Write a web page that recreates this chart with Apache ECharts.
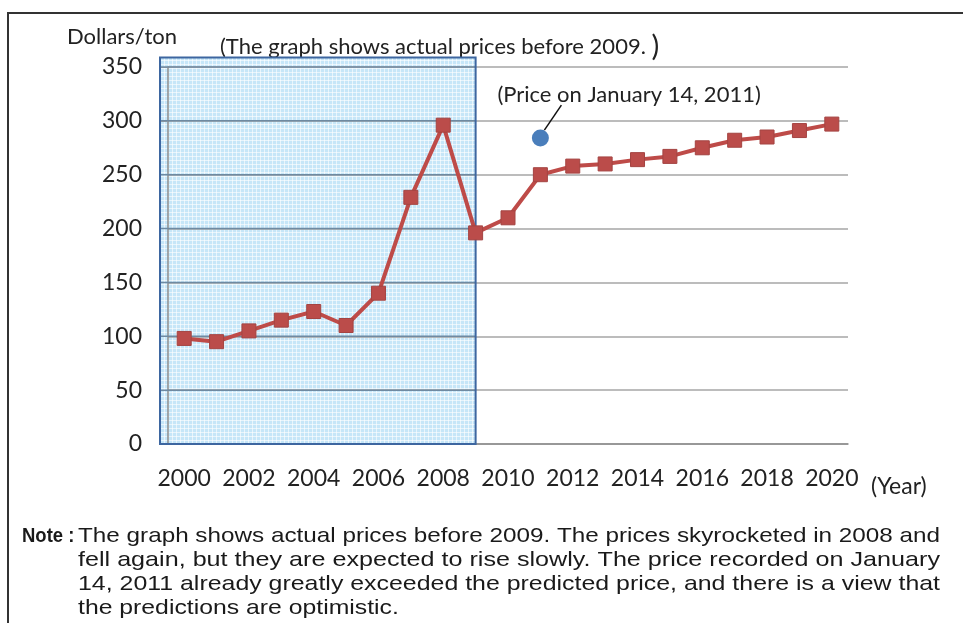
<!DOCTYPE html>
<html>
<head>
<meta charset="utf-8">
<script src="https://cdn.jsdelivr.net/npm/echarts@6/dist/echarts.min.js"></script>
<style>
  html, body { margin: 0; padding: 0; background: #fff; }
  #chart { width: 963px; height: 623px; }
</style>
</head>
<body>
<div id="chart"></div>
<script>
// data
const years = ['2000', '2001', '2002', '2003', '2004', '2005', '2006', '2007', '2008', '2009', '2010',
  '2011', '2012', '2013', '2014', '2015', '2016', '2017', '2018', '2019', '2020']
const prices = [98, 95, 105, 115, 123, 110, 140, 229, 296, 196, 210,
  250, 258, 260, 264, 267, 275, 282, 285, 291, 297]
const actualUntil = '2009'
const janPriceYear = '2011'
const janPrice = 284
const yTicks = [0, 50, 100, 150, 200, 250, 300, 350]
const noteLines = [
  'The graph shows actual prices before 2009. The prices skyrocketed in 2008 and',
  'fell again, but they are expected to rise slowly. The price recorded on January',
  '14, 2011 already greatly exceeded the predicted price, and there is a view that',
  'the predictions are optimistic.'
]

const FONT = 'Lato'
const chart = echarts.init(document.getElementById('chart'))

// 获取option
const option = {
  animation: false,
  grid: { left: 168, right: 115, top: 67, bottom: 179 },
  xAxis: {
    type: 'category',
    data: years,
    boundaryGap: true,
    axisLine: { lineStyle: { color: '#8c8c8c', width: 1.5 } },
    axisTick: { inside: true, length: 6, interval: 0, lineStyle: { color: '#8c8c8c' } },
    axisLabel: { interval: 1, margin: 23, fontFamily: FONT, fontSize: 23, color: '#222' },
    splitLine: { show: false }
  },
  yAxis: {
    type: 'value',
    min: yTicks[0],
    max: yTicks[yTicks.length - 1],
    interval: 50,
    axisLine: { show: true, lineStyle: { color: '#8c8c8c', width: 1.5 } },
    axisTick: { show: true, length: 8, lineStyle: { color: '#a0a0a0' } },
    axisLabel: { margin: 26, fontFamily: FONT, fontSize: 23, color: '#222' },
    splitLine: { lineStyle: { color: '#a6a6a6', width: 1.5 } }
  },
  series: [
    {
      type: 'line',
      data: prices,
      symbol: 'rect',
      symbolSize: 14,
      z: 5,
      lineStyle: { color: '#be4b48', width: 4 },
      itemStyle: { color: '#bb4c4a', borderColor: '#a44442', borderWidth: 1 }
    },
    {
      type: 'scatter',
      data: [[janPriceYear, janPrice]],
      symbolSize: 17,
      z: 6,
      itemStyle: { color: '#4a7ebb', opacity: 1 },
      label: {
        show: true,
        formatter: '(Price on January 14, 2011)',
        position: [-34.5, -34.5],
        align: 'left',
        verticalAlign: 'middle',
        fontFamily: FONT,
        fontSize: 22,
        color: '#222'
      }
    }
  ]
}
chart.setOption(option)

// shaded "actual prices" region and free text, positioned from the axes
const xEnd = chart.convertToPixel({ xAxisIndex: 0 }, actualUntil)
const yTop = chart.convertToPixel({ yAxisIndex: 0 }, yTicks[yTicks.length - 1])
const yBot = chart.convertToPixel({ yAxisIndex: 0 }, 0)
const dot = chart.convertToPixel({ gridIndex: 0 }, [janPriceYear, janPrice])
const boxLeft = 160
const boxTop = yTop - 9.5

// 斑点图案
const pat = document.createElement('canvas')
pat.width = 4
pat.height = 4
const pctx = pat.getContext('2d')
pctx.fillStyle = '#c6e6f8'
pctx.fillRect(0, 0, 4, 4)
pctx.fillStyle = 'rgba(255,255,255,0.6)'
pctx.fillRect(0, 0, 4, 1)
pctx.fillRect(0, 0, 1, 4)

// 区域内的网格线（颜色更深）
const innerGrid = yTicks.slice(1).map(v => {
  const y = chart.convertToPixel({ yAxisIndex: 0 }, v)
  return {
    type: 'line',
    z: 1,
    shape: { x1: boxLeft, y1: y, x2: xEnd, y2: y },
    style: { stroke: '#6f8aa2', lineWidth: 1.5 }
  }
})

// note text, stretched to the justified width
const NOTE_FONT = '21px "Liberation Sans"'
const mctx = document.createElement('canvas').getContext('2d')
mctx.font = NOTE_FONT
const noteWidth = 862
const scales = noteLines.map(t => noteWidth / mctx.measureText(t).width)
const avgScale = (scales[0] + scales[1] + scales[2]) / 3

const noteElems = noteLines.map((t, i) => ({
  type: 'text',
  x: 78,
  y: 536 + i * 24,
  scaleX: i < 3 ? scales[i] : avgScale,
  style: {
    text: t,
    font: NOTE_FONT,
    fill: '#1a1a1a',
    textVerticalAlign: 'middle'
  }
}))

chart.setOption({
  graphic: [
    {
      type: 'rect',
      z: -1,
      shape: { x: boxLeft, y: boxTop, width: xEnd - boxLeft, height: yBot - boxTop },
      style: { fill: { image: pat, repeat: 'repeat' } }
    },
    {
      type: 'rect',
      z: 3,
      shape: { x: boxLeft, y: boxTop, width: xEnd - boxLeft, height: yBot - boxTop },
      style: { fill: null, stroke: '#3d66a0', lineWidth: 2 }
    },
    {
      type: 'line',
      z: 6,
      shape: { x1: dot[0] + 4, y1: dot[1] - 8, x2: dot[0] + 21, y2: dot[1] - 33 },
      style: { stroke: '#111', lineWidth: 1.5 }
    },
    {
      type: 'rect',
      z: 0,
      shape: { x: 8, y: 13, width: 1000, height: 700 },
      style: { fill: null, stroke: '#333', lineWidth: 2 }
    },
    {
      type: 'text',
      x: 67,
      y: 37,
      style: { text: 'Dollars/ton', font: '22px Lato', fill: '#222', textVerticalAlign: 'middle' }
    },
    {
      type: 'text',
      x: 220,
      y: 47,
      style: {
        text: '{a|(The graph shows actual prices before 2009. }{b|)}',
        rich: {
          a: { fontFamily: FONT, fontSize: 22, fill: '#222' },
          b: { fontFamily: FONT, fontSize: 29, fill: '#222' }
        },
        textVerticalAlign: 'middle'
      }
    },
    {
      type: 'text',
      x: 871,
      y: 487,
      style: { text: '(Year)', font: '23px Lato', fill: '#222', textVerticalAlign: 'middle' }
    },
    {
      type: 'text',
      x: 22,
      y: 536,
      scaleX: 0.88,
      style: { text: 'Note :', font: 'bold 21px "Liberation Sans"', fill: '#1a1a1a', textVerticalAlign: 'middle' }
    }
  ].concat(innerGrid, noteElems)
})

window.onresize = () => {
  chart.resize()
}
</script>
</body>
</html>
